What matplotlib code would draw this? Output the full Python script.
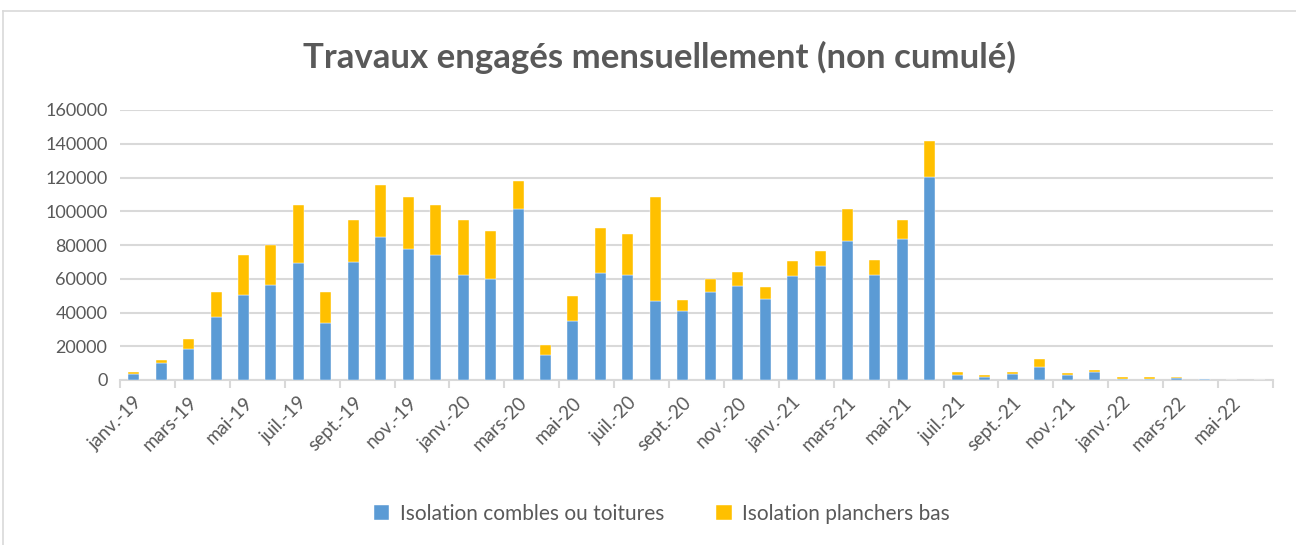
import numpy as np
import matplotlib
matplotlib.use('Agg')
from matplotlib import pyplot as plt
from matplotlib.lines import Line2D

months = ['janv.', 'févr.', 'mars', 'avr.', 'mai', 'juin',
          'juil.', 'août', 'sept.', 'oct.', 'nov.', 'déc.']
labels = [f'{m}-{y}' for y in ['19', '20', '21', '22'] for m in months][:42]

combles = [3550, 10050, 18330, 37240, 50640, 56350, 69560, 33890, 69750, 84530, 77830, 74290,
           62070, 60100, 101480, 14780, 34880, 63250, 62070, 47090, 41180, 52410, 55960, 47880,
           61480, 67390, 82560, 62460, 83740, 120390, 3150, 1580, 3350, 7490, 2960, 4530,
           790, 790, 1180, 600, 150, 80]
totals = [4530, 11630, 24040, 52410, 73890, 80000, 103840, 52410, 94980, 115470, 108570, 103840,
          94580, 88470, 118030, 20490, 49850, 90250, 86700, 108570, 47490, 60100, 64040, 55370,
          70740, 76650, 101280, 71330, 94780, 141670, 4530, 2760, 4530, 12220, 4330, 5710,
          1580, 1580, 1580, 800, 200, 100]
planchers = [t - c for t, c in zip(totals, combles)]

blue = '#5B9BD5'
yellow = '#FFC000'
grid = '#D9D9D9'
text = '#595959'

plt.rcParams['font.family'] = ['Lato', 'DejaVu Sans']

fig = plt.figure(figsize=(12.96, 5.45), dpi=100)
ax = fig.add_axes([120 / 1296, 1 - 380 / 545, (1273 - 120) / 1296, (380 - 110) / 545])

x = np.arange(len(labels))
ax.bar(x, combles, width=0.4, color=blue, edgecolor='white', linewidth=0.3,
       label='Isolation combles ou toitures', zorder=3)
ax.bar(x, planchers, width=0.4, bottom=combles, color=yellow, edgecolor='white', linewidth=0.3,
       label='Isolation planchers bas', zorder=3)

ax.set_xlim(-0.5, len(labels) - 0.5)
ax.set_ylim(0, 160000)
ax.set_yticks(np.arange(0, 160001, 20000))
ax.yaxis.grid(True, color=grid, linewidth=1.5, zorder=0)
ax.tick_params(axis='y', length=0, labelsize=13, labelcolor=text, pad=9)

ax.set_xticks(x[::2])
ax.set_xticklabels(labels[::2], rotation=45, ha='right', rotation_mode='anchor')
ax.set_xticks(np.arange(-0.5, len(labels), 2), minor=True)
ax.tick_params(axis='x', which='major', length=0, labelsize=13.5, labelcolor=text, pad=10)
ax.tick_params(axis='x', which='minor', length=6, color=grid, width=1.5)

for s in ['top', 'right', 'left']:
    ax.spines[s].set_visible(False)
ax.spines['bottom'].set_color(grid)
ax.spines['bottom'].set_linewidth(1.5)

fig.text(659 / 1296, 1 - 57 / 545, 'Travaux engagés mensuellement (non cumulé)',
         ha='center', va='center', fontsize=25, fontweight='bold', color=text)

fig.legend(loc='center', bbox_to_anchor=(662 / 1296, 1 - 514 / 545), ncol=2, frameon=False,
           fontsize=15, labelcolor=text, handlelength=0.75, handleheight=0.75,
           columnspacing=2.5, handletextpad=0.5)

fig.add_artist(Line2D([3 / 1296, 3 / 1296], [0, 1 - 11 / 545], transform=fig.transFigure,
                      color=grid, linewidth=1.2))
fig.add_artist(Line2D([3 / 1296, 1], [1 - 11 / 545, 1 - 11 / 545], transform=fig.transFigure,
                      color=grid, linewidth=1.2))

fig.savefig('out.png', dpi=100)
